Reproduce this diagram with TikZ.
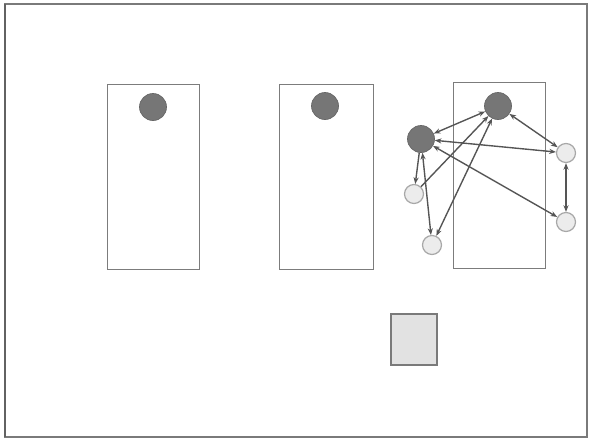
\documentclass[tikz,border=0pt]{standalone}
\usepackage{xcolor}
\usepackage{tikz}
\usetikzlibrary{arrows.meta}
\definecolor{frame}{HTML}{7A7A7A}
\definecolor{boxline}{HTML}{7C7C7C}
\definecolor{dark}{HTML}{767676}
\definecolor{darkrim}{HTML}{666666}
\definecolor{pale}{HTML}{ECECEC}
\definecolor{palerim}{HTML}{A8A8A8}
\definecolor{tile}{HTML}{E2E2E2}
\definecolor{wire}{HTML}{555555}
\newlength{\pxunit}
\setlength{\pxunit}{0.2538mm}
\tikzset{
  slot/.style     = {draw=boxline, line width=0.7pt},
  bigdot/.style   = {circle, draw=darkrim, fill=dark, line width=0.5pt, minimum size=27\pxunit, inner sep=0pt},
  smalldot/.style = {circle, draw=palerim, fill=pale, line width=0.9pt, minimum size=19\pxunit, inner sep=0pt},
  link/.style     = {-{Stealth[length=1.7mm,width=1.3mm]}, draw=wire, line width=1pt},
  twoway/.style   = {{Stealth[length=1.7mm,width=1.3mm]}-{Stealth[length=1.7mm,width=1.3mm]}, draw=wire, line width=1pt},
}

\begin{document}
\begin{tikzpicture}[x=0.2538mm,y=-0.2538mm]
\path[use as bounding box] (0,0) rectangle (591,439);

% outer frame, heavier on the left
\draw[frame, line width=1.1pt] (5,4) rectangle (587,437);
\draw[frame!80!black, line width=2pt] (5,4) -- (5,437);

% ---------- the three slots ---------------------------------------------
\draw[slot] (107,84) rectangle (199,269);
\draw[slot] (279,84) rectangle (373,269);
\draw[slot] (453,82) rectangle (545,268);

\node[bigdot] (one) at (153,107) {};
\node[bigdot] (two) at (325,106) {};

% ---------- the graph in the third slot ---------------------------------
\node[bigdot]   (top)   at (498,106) {};
\node[bigdot]   (left)  at (421,139) {};
\node[smalldot] (ne)    at (566,153) {};
\node[smalldot] (se)    at (566,222) {};
\node[smalldot] (w)     at (414,194) {};
\node[smalldot] (s)     at (432,245) {};

\draw[twoway] (left) -- (top);
\draw[twoway] (top)  -- (ne);
\draw[twoway] (left) -- (ne);
\draw[twoway] (left) -- (se);
\draw[twoway] (ne)   -- (se);
\draw[twoway] (left) -- (s);
\draw[twoway] (top)  -- (s);
\draw[link]   (left) -- (w);
\draw[link]   (w)    -- (top);

% ---------- loose tile --------------------------------------------------
\draw[frame, fill=tile, line width=0.9pt] (391,314) rectangle (437,365);

\end{tikzpicture}
\end{document}
